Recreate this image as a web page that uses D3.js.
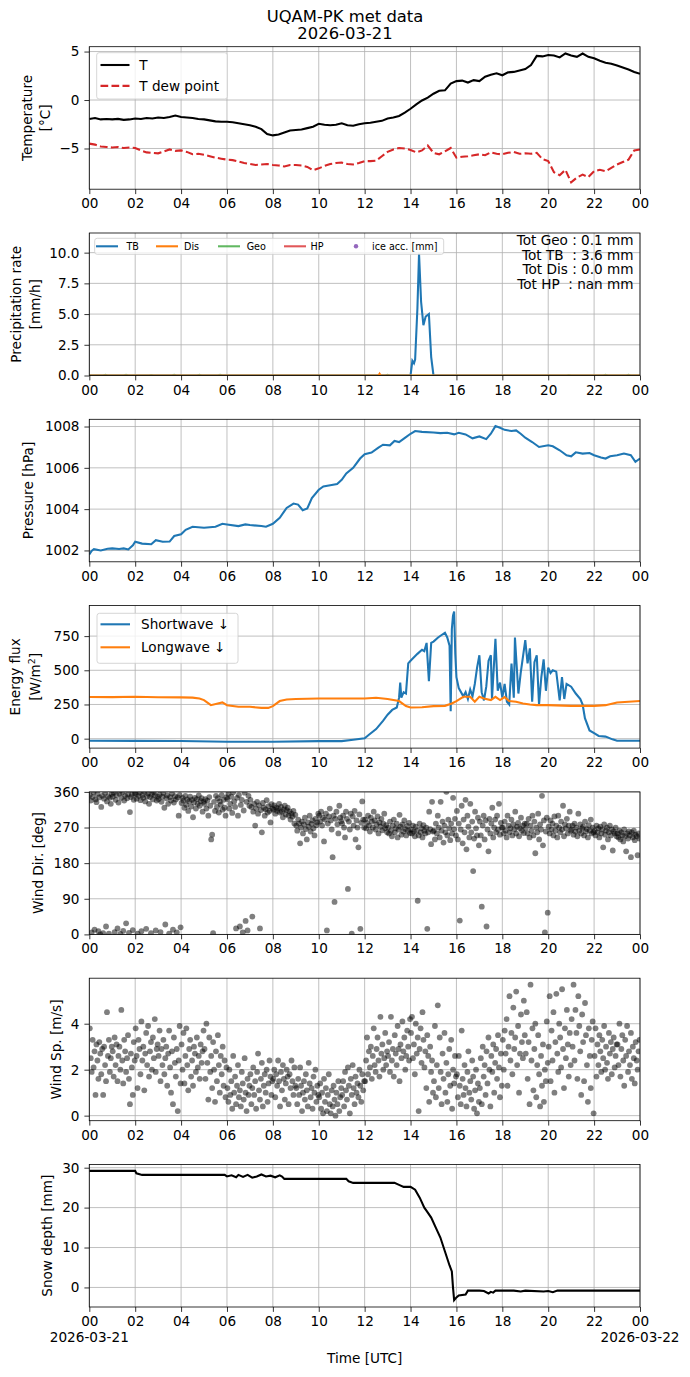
<!doctype html>
<html>
<head>
<meta charset="utf-8">
<style>
    body { margin: 0; background: #fff; }
    svg { display: block; }
    text { font-family: "DejaVu Sans", sans-serif; fill: #000; }
    .grid line { stroke: #b0b0b0; stroke-width: 0.8; }
    .frame { fill: none; stroke: #000; stroke-width: 0.8; }
    .tot { font-size: 13.6px; text-anchor: end; white-space: pre; }
</style>
<script src="https://d3js.org/d3.v7.min.js"></script>
</head>
<body>
<script>
    // ---- data (hours UTC from 2026-03-21 00:00) ----
    // temperature, sampled every 15 min
    const tempT = [
        -1.95, -1.85, -2.0, -1.95, -2.0, -1.95, -2.05, -2.0, -1.9, -1.95, -1.85, -1.9, -1.8, -1.85, -1.75, -1.6,
        -1.75, -1.8, -1.85, -1.95, -2.0, -2.1, -2.2, -2.25, -2.25, -2.3, -2.4, -2.5, -2.6, -2.75, -3.0, -3.5,
        -3.65, -3.55, -3.35, -3.15, -3.1, -3.05, -2.9, -2.75, -2.45, -2.55, -2.6, -2.55, -2.4, -2.6, -2.65, -2.5,
        -2.4, -2.35, -2.25, -2.15, -1.9, -1.8, -1.65, -1.3, -0.9, -0.45, -0.05, 0.25, 0.65, 0.95, 1.0, 1.7,
        1.95, 2.0, 1.8, 2.05, 1.95, 2.4, 2.6, 2.75, 2.55, 2.85, 2.9, 3.05, 3.2, 3.6, 4.55, 4.5,
        4.65, 4.6, 4.4, 4.8, 4.6, 4.45, 4.8, 4.45, 4.3, 4.05, 3.85, 3.75, 3.55, 3.35, 3.15, 2.9, 2.7
    ];
    const tempTd = [
        -4.5, -4.6, -4.8, -4.85, -4.9, -4.85, -4.95, -4.9, -4.95, -5.2, -5.4, -5.45, -5.5, -5.3, -5.1, -5.25,
        -5.2, -5.35, -5.6, -5.55, -5.65, -5.8, -5.95, -6.05, -6.15, -6.2, -6.35, -6.5, -6.6, -6.7, -6.65, -6.6,
        -6.7, -6.75, -6.85, -6.7, -6.7, -6.75, -6.9, -7.25, -7.05, -6.8, -6.6, -6.5, -6.45, -6.6, -6.65, -6.5,
        -6.3, -6.3, -6.25, -5.8, -5.35, -5.1, -4.95, -5.0, -5.15, -5.4, -5.2, -4.7, -5.45, -5.6, -5.3, -4.95,
        -5.95, -5.85, -5.8, -5.7, -5.6, -5.7, -5.4, -5.55, -5.6, -5.45, -5.35, -5.55, -5.5, -5.55, -5.45, -6.1,
        -6.3, -7.45, -7.75, -7.2, -8.5, -8.0, -7.7, -7.95, -7.35, -7.2, -7.35, -7.0, -6.65, -6.4, -6.15, -5.2, -5.1
    ];

    // precipitation rate [mm/h] as [hour, value]
    const precipTB = [[0, 0], [14.0, 0], [14.08, 1.2], [14.15, 1.0], [14.2, 1.3], [14.3, 5.5], [14.37, 9.9],
        [14.46, 6.0], [14.56, 4.1], [14.66, 4.8], [14.8, 5.0], [14.9, 1.5], [15.0, 0], [24, 0]];
    const precipDis = [[0, 0], [12.6, 0], [12.65, 0.15], [12.7, 0], [24, 0]];
    const precipGeo = [[0, 0], [0.6, 0], [0.7, 0.05], [0.8, 0], [1.5, 0], [1.6, 0.05], [1.7, 0], [2.6, 0], [2.7, 0.04],
        [2.8, 0], [3.6, 0], [3.7, 0.06], [3.8, 0], [4.7, 0], [4.8, 0.05], [4.9, 0], [5.6, 0], [5.7, 0.06], [5.8, 0],
        [12.9, 0], [13.0, 0.05], [13.1, 0], [20.8, 0], [20.9, 0.04], [21.0, 0], [22.4, 0], [22.5, 0.05], [22.6, 0],
        [23.4, 0], [23.5, 0.05], [23.6, 0], [24, 0]];
    const precipTotals = ["Tot Geo : 0.1 mm", "Tot TB  : 3.6 mm", "Tot Dis : 0.0 mm", "Tot HP  : nan mm"];
    const precipLegend = ["TB", "Dis", "Geo", "HP", "ice acc. [mm]"];

    // pressure [hPa]
    const pressure = [[0, 1001.8], [0.1, 1001.98], [0.2, 1002.06], [0.5, 1002.0], [0.8, 1002.08], [1.0, 1002.1],
        [1.3, 1002.07], [1.5, 1002.1], [1.7, 1002.05], [1.9, 1002.25], [2.0, 1002.42], [2.3, 1002.33], [2.7, 1002.3],
        [2.9, 1002.5], [3.2, 1002.42], [3.5, 1002.43], [3.7, 1002.7], [4.0, 1002.78], [4.2, 1003.0], [4.5, 1003.15],
        [5.0, 1003.1], [5.5, 1003.15], [5.8, 1003.29], [6.0, 1003.26], [6.5, 1003.18], [6.8, 1003.26], [7.0, 1003.23],
        [7.5, 1003.18], [7.7, 1003.15], [8.0, 1003.29], [8.3, 1003.58], [8.6, 1004.06], [8.9, 1004.27], [9.1, 1004.22],
        [9.3, 1003.95], [9.5, 1004.03], [9.7, 1004.54], [10.0, 1004.94], [10.2, 1005.1], [10.5, 1005.16], [10.8, 1005.22],
        [11.0, 1005.42], [11.2, 1005.73], [11.5, 1006.0], [11.8, 1006.45], [12.0, 1006.66], [12.3, 1006.74],
        [12.6, 1006.98], [12.8, 1007.12], [13.1, 1007.09], [13.3, 1007.3], [13.5, 1007.25], [13.8, 1007.49],
        [14.0, 1007.65], [14.2, 1007.78], [14.5, 1007.74], [15.0, 1007.71], [15.3, 1007.68], [15.6, 1007.7],
        [15.9, 1007.62], [16.1, 1007.7], [16.4, 1007.62], [16.7, 1007.43], [17.0, 1007.52], [17.3, 1007.39],
        [17.5, 1007.65], [17.7, 1008.02], [17.9, 1007.94], [18.1, 1007.84], [18.4, 1007.78], [18.6, 1007.81],
        [18.8, 1007.65], [19.0, 1007.46], [19.3, 1007.25], [19.6, 1007.01], [20.0, 1007.09], [20.2, 1007.04],
        [20.5, 1006.85], [20.8, 1006.61], [21.0, 1006.56], [21.2, 1006.75], [21.5, 1006.69], [21.8, 1006.72],
        [22.0, 1006.61], [22.3, 1006.5], [22.5, 1006.45], [22.7, 1006.56], [23.0, 1006.61], [23.3, 1006.69],
        [23.6, 1006.61], [23.8, 1006.29], [24.0, 1006.45]];

    // radiation [W/m2]
    const shortwave = [[0, -15], [2, -16], [4, -17], [6, -22], [7, -23], [8, -22], [10, -18], [11, -18], [11.5, -8],
        [12.0, 3], [12.2, 30], [12.5, 70], [12.8, 130], [13.0, 175], [13.2, 210], [13.4, 228], [13.5, 300], [13.55, 410],
        [13.6, 300], [13.7, 340], [13.8, 330], [13.9, 550], [14.0, 570], [14.3, 620], [14.5, 650], [14.6, 640],
        [14.7, 700], [14.75, 560], [14.8, 420], [14.9, 700], [15.0, 710], [15.2, 740], [15.5, 775], [15.6, 740],
        [15.7, 680], [15.75, 200], [15.8, 800], [15.85, 900], [15.9, 930], [15.95, 620], [16.0, 450], [16.1, 370],
        [16.3, 310], [16.4, 340], [16.5, 290], [16.6, 360], [16.7, 310], [16.8, 400], [16.9, 520], [17.0, 610],
        [17.1, 340], [17.2, 280], [17.3, 380], [17.4, 570], [17.5, 610], [17.55, 290], [17.7, 730], [17.8, 350],
        [17.9, 410], [18.0, 300], [18.1, 400], [18.2, 270], [18.3, 250], [18.4, 550], [18.5, 300], [18.55, 740],
        [18.7, 330], [18.8, 480], [19.0, 720], [19.1, 550], [19.2, 660], [19.3, 270], [19.4, 560], [19.5, 610],
        [19.6, 250], [19.7, 450], [19.8, 580], [19.9, 350], [20.0, 520], [20.1, 480], [20.2, 500], [20.35, 490],
        [20.5, 280], [20.6, 450], [20.7, 290], [20.8, 400], [21.0, 380], [21.2, 330], [21.4, 290], [21.5, 250],
        [21.6, 150], [21.8, 60], [22.0, 40], [22.2, 20], [22.5, 15], [22.8, -5], [23.0, -15], [24, -15]];
    const longwave = [[0, 305], [1, 304], [2, 306], [3, 303], [4, 302], [4.5, 300], [4.8, 293], [5.0, 282], [5.3, 245],
        [5.6, 257], [5.8, 265], [6.0, 245], [6.5, 233], [7.0, 233], [7.5, 225], [7.8, 225], [8.0, 238], [8.3, 275],
        [8.6, 287], [9.0, 290], [10, 294], [11, 294], [12, 294], [12.5, 299], [13, 290], [13.5, 275], [13.8, 238],
        [14.0, 228], [14.5, 230], [15, 238], [15.5, 240], [15.8, 257], [16.0, 275], [16.3, 306], [16.6, 306],
        [16.8, 270], [17.0, 306], [17.2, 294], [17.5, 282], [17.7, 306], [17.9, 282], [18.1, 304], [18.3, 275],
        [18.6, 270], [18.9, 257], [19.2, 250], [19.5, 245], [20, 245], [21, 240], [22, 240], [22.5, 245],
        [23.0, 265], [23.5, 270], [24, 275]];

    // wind direction [deg], 24 samples per hour
    const windDir = [
        [352, 338, 5, 347, 359, 12, 341, 334, 355, 8, 346, 0, 322, 350, 3, 343, 357, 20, 336, 349, 2, 345, 330, 355],
        [348, 358, 6, 340, 352, 15, 333, 356, 1, 345, 359, 9, 338, 350, 28, 344, 355, 4, 309, 347, 353, 11, 340, 357],
        [355, 343, 2, 350, 358, 339, 8, 352, 345, 360, 336, 14, 349, 356, 330, 347, 3, 354, 341, 359, 351, 10, 338, 348],
        [342, 353, 6, 335, 348, 357, 320, 25, 344, 351, 330, 2, 347, 338, 356, 12, 333, 349, 341, 5, 346, 300, 352, 18],
        [332, 345, 338, 320, 350, 327, 341, 312, 336, 348, 323, 340, 296, 333, 345, 318, 342, 330, 351, 325, 337, 344, 310, 335],
        [330, 342, 318, 338, 300, 347, 325, 240, 252, 3, 335, 312, 350, 322, 344, 308, 336, 328, 352, 315, 340, 320, 300, 346],
        [342, 355, 318, 330, 348, 307, 359, 336, 322, 15, 345, 300, 352, 20, 327, 340, 5, 313, 358, 34, 335, 10, 350, 325],
        [340, 322, 45, 310, 330, 275, 318, 335, 305, 326, 15, 314, 258, 332, 320, 300, 316, 339, 308, 324, 312, 283, 329, 318],
        [315, 326, 305, 320, 312, 318, 330, 308, 322, 310, 296, 316, 325, 303, 314, 320, 300, 311, 290, 305, 298, 312, 280, 302],
        [275, 262, 290, 280, 230, 270, 285, 255, 278, 295, 266, 240, 283, 272, 300, 260, 279, 288, 268, 250, 292, 276, 283, 305],
        [300, 285, 310, 275, 295, 235, 290, 305, 10, 280, 298, 318, 288, 265, 195, 300, 82, 292, 310, 278, 255, 325, 295, 286],
        [280, 300, 270, 245, 310, 292, 115, 285, 265, 305, 2, 298, 275, 312, 240, 288, 270, 220, 303, 14, 282, 336, 290, 270],
        [290, 268, 282, 300, 275, 260, 295, 285, 270, 310, 288, 265, 278, 298, 255, 283, 272, 292, 263, 280, 305, 268, 276, 258],
        [270, 255, 285, 262, 248, 275, 290, 258, 268, 280, 245, 265, 302, 272, 252, 278, 260, 288, 266, 250, 274, 262, 282, 256],
        [265, 255, 275, 260, 248, 272, 262, 85, 250, 280, 258, 268, 245, 276, 262, 255, 270, 14, 258, 310, 266, 228, 335, 260],
        [262, 240, 280, 255, 300, 270, 245, 335, 262, 285, 232, 275, 258, 360, 250, 290, 268, 238, 280, 255, 345, 266, 292, 250],
        [312, 240, 280, 35, 265, 325, 230, 290, 258, 340, 215, 300, 272, 245, 330, 258, 285, 160, 242, 310, 268, 250, 295, 225],
        [285, 250, 70, 275, 300, 240, 288, 20, 265, 210, 292, 255, 280, 320, 245, 270, 290, 258, 300, 265, 330, 252, 282, 270],
        [270, 255, 285, 262, 245, 300, 275, 258, 268, 290, 250, 278, 265, 310, 255, 272, 282, 248, 268, 295, 262, 275, 256, 280],
        [268, 280, 255, 292, 245, 275, 262, 300, 250, 285, 205, 270, 258, 305, 240, 278, 265, 350, 225, 288, 5, 260, 295, 55],
        [272, 255, 288, 265, 280, 250, 298, 262, 275, 245, 300, 270, 258, 285, 265, 325, 248, 278, 268, 292, 255, 275, 310, 262],
        [265, 275, 252, 280, 260, 270, 248, 305, 262, 278, 255, 268, 272, 250, 285, 260, 266, 245, 276, 262, 290, 255, 270, 258],
        [262, 250, 275, 258, 268, 245, 272, 255, 265, 220, 278, 252, 262, 270, 240, 258, 275, 250, 265, 212, 260, 255, 270, 248],
        [255, 245, 262, 240, 258, 250, 235, 265, 248, 210, 255, 242, 260, 250, 195, 258, 245, 262, 238, 252, 248, 200, 255, 242]
    ];

    // wind speed [m/s], 24 samples per hour
    const windSpeed = [
        [3.8, 2.5, 1.9, 3.3, 2.1, 2.8, 0.9, 3.1, 2.4, 1.6, 3.2, 2.7, 1.8, 2.9, 0.9, 3.0, 2.2, 1.5, 4.5, 2.6, 3.3, 1.9, 2.5, 3.0],
        [2.8, 1.7, 3.4, 2.2, 3.1, 1.5, 2.6, 3.0, 2.0, 4.6, 2.4, 1.4, 3.3, 2.8, 1.9, 2.5, 3.5, 1.6, 0.5, 2.7, 2.1, 0.9, 3.2, 2.4],
        [3.8, 2.6, 1.2, 3.3, 2.9, 1.8, 4.1, 2.4, 3.0, 1.1, 2.7, 3.6, 2.2, 3.9, 1.7, 2.8, 3.2, 2.0, 3.4, 2.5, 4.2, 1.9, 2.9, 3.1],
        [2.6, 3.7, 1.5, 2.9, 2.2, 3.3, 1.8, 2.5, 3.0, 1.3, 2.7, 3.7, 2.1, 1.0, 2.8, 0.5, 3.4, 2.3, 1.7, 2.9, 0.2, 2.4, 3.9, 1.4],
        [3.1, 2.0, 3.6, 1.4, 2.6, 3.8, 2.2, 1.1, 2.9, 3.3, 1.7, 2.4, 1.3, 3.0, 2.7, 1.9, 3.4, 2.1, 2.6, 1.6, 3.1, 2.3, 2.8, 3.7],
        [2.9, 1.6, 4.0, 2.3, 0.7, 3.4, 1.9, 2.6, 1.2, 3.2, 2.0, 0.6, 2.8, 1.5, 3.5, 2.2, 1.0, 2.6, 1.8, 3.0, 1.3, 2.4, 0.8, 2.1],
        [1.2, 0.6, 2.0, 0.9, 1.5, 0.3, 2.6, 1.0, 1.7, 0.5, 1.3, 2.2, 0.8, 1.1, 0.4, 1.9, 1.4, 0.7, 2.5, 1.0, 0.2, 1.6, 0.9, 1.3],
        [1.8, 0.5, 1.2, 2.1, 0.9, 1.5, 0.3, 1.9, 2.7, 1.1, 0.7, 1.6, 2.3, 0.4, 1.3, 1.8, 1.0, 2.0, 0.6, 1.4, 2.4, 1.7, 0.9, 1.5],
        [1.6, 2.0, 0.8, 1.8, 1.3, 2.4, 1.5, 0.4, 1.9, 1.1, 2.2, 1.6, 0.7, 1.4, 2.0, 1.7, 0.5, 1.8, 1.2, 2.4, 1.5, 0.9, 2.1, 1.3],
        [1.2, 0.5, 1.6, 0.9, 2.1, 1.3, 0.2, 1.0, 1.5, 0.7, 1.8, 1.1, 0.4, 2.3, 1.4, 0.8, 1.2, 0.3, 1.7, 1.0, 2.0, 0.6, 1.3, 0.9],
        [0.8, 1.4, 0.3, 1.0, 0.1, 1.6, 0.6, 1.2, 0.2, 0.9, 1.8, 0.5, 0.1, 1.1, 0.4, 1.3, 0.7, 0.0, 1.0, 0.5, 1.5, 0.2, 0.8, 1.2],
        [0.9, 1.5, 0.4, 1.9, 1.1, 0.7, 2.1, 1.3, 0.1, 1.6, 0.9, 2.2, 1.2, 0.5, 1.7, 1.0, 1.4, 0.8, 2.0, 1.3, 0.6, 1.8, 1.1, 1.5],
        [1.5, 2.4, 3.4, 1.8, 2.8, 2.1, 3.0, 1.6, 2.6, 3.8, 2.2, 1.9, 2.9, 3.4, 2.4, 1.7, 4.3, 2.7, 3.1, 2.0, 2.5, 3.6, 2.2, 2.8],
        [2.6, 3.2, 1.9, 4.3, 2.4, 2.9, 1.7, 3.5, 2.7, 2.2, 3.9, 2.9, 1.5, 3.1, 2.5, 4.1, 2.8, 3.4, 2.0, 2.6, 3.7, 3.0, 2.4, 4.2],
        [3.6, 4.3, 2.5, 3.1, 1.8, 4.0, 2.7, 3.4, 0.2, 2.9, 3.8, 2.3, 4.5, 3.3, 2.1, 2.8, 1.2, 3.5, 2.6, 0.6, 3.0, 1.9, 2.4, 1.0],
        [1.5, 3.9, 0.8, 2.2, 4.8, 1.2, 3.4, 1.9, 0.5, 2.7, 1.6, 3.6, 1.0, 2.3, 0.6, 1.8, 2.9, 1.3, 3.3, 0.3, 2.0, 1.4, 2.6, 1.7],
        [1.8, 0.8, 2.6, 1.3, 0.5, 3.7, 1.6, 0.9, 2.2, 1.2, 0.4, 1.9, 2.8, 1.0, 1.5, 0.7, 2.4, 1.7, 0.3, 1.1, 2.0, 0.1, 1.4, 0.6],
        [1.2, 2.5, 0.5, 3.0, 1.7, 2.2, 0.9, 2.8, 1.4, 3.4, 2.0, 0.4, 2.6, 1.9, 3.1, 1.0, 2.3, 2.9, 1.6, 3.5, 2.1, 0.8, 2.7, 1.3],
        [3.3, 2.0, 3.7, 2.7, 4.2, 1.3, 3.0, 5.2, 2.4, 3.6, 1.8, 4.7, 2.9, 3.4, 5.4, 2.2, 3.9, 1.0, 2.7, 4.4, 3.2, 2.5, 5.0, 3.5],
        [2.7, 4.5, 1.6, 3.2, 0.5, 5.7, 2.4, 3.8, 1.1, 2.9, 4.0, 0.8, 2.2, 3.5, 1.8, 0.4, 2.6, 1.3, 3.1, 0.6, 2.0, 1.5, 4.1, 2.3],
        [3.0, 5.2, 1.5, 3.7, 2.4, 4.5, 1.0, 3.2, 5.3, 2.7, 1.9, 4.0, 3.4, 2.1, 5.5, 2.9, 1.2, 3.8, 2.5, 4.6, 3.1, 1.7, 3.6, 2.2],
        [4.2, 3.0, 5.7, 2.4, 4.6, 3.6, 1.6, 5.2, 3.9, 2.8, 0.9, 4.4, 3.2, 1.5, 4.9, 3.5, 2.2, 0.6, 3.8, 2.6, 1.2, 3.3, 4.1, 0.1],
        [2.6, 3.8, 1.7, 3.1, 2.2, 3.5, 2.8, 1.9, 3.3, 2.5, 3.9, 2.0, 3.0, 2.3, 1.6, 3.6, 2.7, 3.2, 1.8, 2.9, 3.4, 2.1, 2.6, 3.1],
        [3.1, 2.2, 4.0, 1.7, 2.9, 3.5, 2.4, 1.3, 3.3, 2.6, 3.9, 1.9, 2.8, 2.2, 3.6, 1.6, 3.0, 2.5, 1.4, 3.2, 2.4, 2.0, 2.8, 3.3]
    ];

    // snow depth [mm]
    const snowDepth = [[0, 29.2], [2.0, 29.2], [2.05, 28.6], [2.3, 28.2], [5.9, 28.2], [6.0, 27.8], [6.2, 28.1],
        [6.4, 27.6], [6.5, 28.2], [6.7, 27.7], [6.9, 28.2], [7.1, 27.5], [7.3, 27.8], [7.5, 28.3], [7.7, 27.8],
        [7.9, 28.0], [8.1, 27.6], [8.3, 28.1], [8.4, 27.8], [8.5, 27.2], [11.2, 27.2], [11.3, 26.6], [11.5, 26.2],
        [13.3, 26.2], [13.5, 25.7], [13.7, 25.2], [14.0, 25.2], [14.2, 24.5], [14.4, 22.5], [14.6, 20.0], [14.7, 19.2],
        [14.9, 17.5], [15.1, 15.0], [15.3, 12.5], [15.5, 9.0], [15.7, 5.5], [15.8, 4.0], [15.85, 0], [15.9, -3.2],
        [16.0, -2.5], [16.1, -2.0], [16.4, -1.8], [16.5, -0.8], [17.0, -0.8], [17.2, -0.9], [17.4, -1.5], [17.5, -1.1],
        [17.6, -1.3], [17.7, -0.8], [18.5, -0.8], [18.8, -1.0], [19.0, -0.8], [19.8, -1.0], [20.0, -0.9], [20.2, -1.2],
        [20.4, -0.8], [24, -0.8]];

    const hourTicks = d3.range(0, 25, 2);

    // ---- layout ----
    const W = 690, H = 1377;
    const left = 89.3, right = 640;
    const panelH = 142.5;
    const panelTop = i => 46.7 + 186.3 * i;
    const fs = 13.6;
    const BLUE = "#1f77b4", ORANGE = "#ff7f0e", GREEN = "#2ca02c", RED = "#d62728", PURPLE = "#9467bd";

    const svg = d3.select("body").append("svg")
        .attr("width", W).attr("height", H)
        .attr("viewBox", `0 0 ${W} ${H}`);

    const x = d3.scaleLinear().domain([0, 24]).range([left, right]);

    const minus = d => (d < 0 ? "\u2212" + Math.abs(d) : String(d));

    function makePanel(i, domain, ticks, fmt, ylabel) {
        const top = panelTop(i), bottom = top + panelH;
        const y = d3.scaleLinear().domain(domain).range([bottom, top]);
        const g = svg.append("g");

        // grid
        const grid = g.append("g").attr("class", "grid");
        grid.selectAll(".gx").data(hourTicks).join("line")
            .attr("x1", d => x(d)).attr("x2", d => x(d)).attr("y1", top).attr("y2", bottom);
        grid.selectAll(".gy").data(ticks).join("line")
            .attr("x1", left).attr("x2", right).attr("y1", d => y(d)).attr("y2", d => y(d));

        svg.append("clipPath").attr("id", "clip" + i)
            .append("rect").attr("x", left).attr("y", top).attr("width", right - left).attr("height", panelH);
        const plot = g.append("g").attr("clip-path", `url(#clip${i})`);

        // axes
        const xa = g.append("g").attr("transform", `translate(0,${bottom})`)
            .call(d3.axisBottom(x).tickValues(hourTicks).tickSize(4.9).tickPadding(4.5)
                .tickFormat(d => String(d % 24).padStart(2, "0")));
        const ya = g.append("g").attr("transform", `translate(${left},0)`)
            .call(d3.axisLeft(y).tickValues(ticks).tickSize(4.9).tickPadding(4.9).tickFormat(fmt));
        [xa, ya].forEach(a => {
            a.attr("font-size", fs).attr("font-family", "DejaVu Sans");
            a.select(".domain").remove();
            a.selectAll("line").attr("stroke-width", 0.8);
        });

        // y label
        const cy = top + panelH / 2;
        ylabel.forEach(([txt, cx]) => {
            const t = g.append("text")
                .attr("transform", `translate(${cx + 4},${cy}) rotate(-90)`)
                .attr("text-anchor", "middle").attr("font-size", fs);
            if (txt === "W/m2") {
                t.append("tspan").text("[W/m");
                t.append("tspan").attr("font-size", fs * 0.7).attr("dy", -5).text("2");
                t.append("tspan").attr("dy", 5).text("]");
            } else {
                t.text(txt);
            }
        });

        return {g, plot, y, top, bottom, frame: () => g.append("rect").attr("class", "frame")
                .attr("x", left).attr("y", top).attr("width", right - left).attr("height", panelH)};
    }

    const lineOf = y => d3.line().x(d => x(d[0])).y(d => y(d[1]));

    function legendBox(g, bx, by, bw, bh) {
        g.append("rect").attr("x", bx).attr("y", by).attr("width", bw).attr("height", bh).attr("rx", 2.5)
            .attr("fill", "#fff").attr("fill-opacity", 0.8).attr("stroke", "#cccccc").attr("stroke-width", 0.8);
    }

    // ---- title ----
    svg.append("text").attr("x", 345).attr("y", 22.3).attr("text-anchor", "middle")
        .attr("font-size", 16.4).text("UQAM-PK met data");
    svg.append("text").attr("x", 345).attr("y", 39.3).attr("text-anchor", "middle")
        .attr("font-size", 16.4).text("2026-03-21");

    // ---- panel 1: temperature ----
    {
        const p = makePanel(0, [-9.2, 5.5], [-5, 0, 5], minus, [["Temperature", 28.3], ["[°C]", 46]]);
        const tData = tempT.map((v, k) => [k * 0.25, v]);
        const tdData = tempTd.map((v, k) => [k * 0.25, v]);
        p.plot.append("path").attr("d", lineOf(p.y)(tData)).attr("fill", "none")
            .attr("stroke", "#000").attr("stroke-width", 2.08);
        p.plot.append("path").attr("d", lineOf(p.y)(tdData)).attr("fill", "none")
            .attr("stroke", RED).attr("stroke-width", 2.08).attr("stroke-dasharray", "7.7,3.3");
        p.frame();
        legendBox(p.g, 96.7, 52.7, 130.6, 46.3);
        [["T", "#000", null, 65], ["T dew point", RED, "7.7,3.3", 85.9]].forEach(([lab, col, dash, cy]) => {
            p.g.append("line").attr("x1", 100.5).attr("x2", 129.5).attr("y1", cy).attr("y2", cy)
                .attr("stroke", col).attr("stroke-width", 2.08).attr("stroke-dasharray", dash);
            p.g.append("text").attr("x", 139.3).attr("y", cy + 5.4).attr("font-size", fs).text(lab);
        });
    }

    // ---- panel 2: precipitation ----
    {
        const p = makePanel(1, [0, 11.6], [0, 2.5, 5, 7.5, 10], d3.format(".1f"),
            [["Precipitation rate", 17], ["[mm/h]", 36]]);
        p.plot.append("path").attr("d", lineOf(p.y)(precipGeo)).attr("fill", "none")
            .attr("stroke", GREEN).attr("stroke-opacity", 0.7).attr("stroke-width", 2.08);
        p.plot.append("path").attr("d", lineOf(p.y)(precipTB)).attr("fill", "none")
            .attr("stroke", BLUE).attr("stroke-width", 2.08);
        p.plot.append("path").attr("d", lineOf(p.y)(precipDis)).attr("fill", "none")
            .attr("stroke", ORANGE).attr("stroke-width", 2.08);
        p.frame();

        legendBox(p.g, 94.7, 238.3, 349, 16);
        const cols = [BLUE, ORANGE, GREEN, "#e15759", PURPLE];
        const hx = [96, 156, 218, 284, 356];
        const tx = [126.4, 184, 246.7, 310.6, 372];
        precipLegend.forEach((lab, k) => {
            if (k < 4) {
                p.g.append("line").attr("x1", hx[k]).attr("x2", hx[k] + 22).attr("y1", 246.3).attr("y2", 246.3)
                    .attr("stroke", cols[k]).attr("stroke-width", 2.08)
                    .attr("stroke-opacity", k === 2 ? 0.75 : 1);
            } else {
                p.g.append("circle").attr("cx", hx[k]).attr("cy", 246.3).attr("r", 2.2).attr("fill", cols[k]);
            }
            p.g.append("text").attr("x", tx[k]).attr("y", 249.7).attr("font-size", 9.6).text(lab);
        });

        p.g.selectAll(".tot").data(precipTotals).join("text").attr("class", "tot")
            .attr("x", 633.5).attr("y", (d, k) => 245 + k * 14.5).text(d => d);
    }

    // ---- panel 3: pressure ----
    {
        const p = makePanel(2, [1001.45, 1008.35], [1002, 1004, 1006, 1008], d => d, [["Pressure [hPa]", 29]]);
        p.plot.append("path").attr("d", lineOf(p.y)(pressure)).attr("fill", "none")
            .attr("stroke", BLUE).attr("stroke-width", 2.08);
        p.frame();
    }

    // ---- panel 4: energy flux ----
    {
        const p = makePanel(3, [-69, 973], [0, 250, 500, 750], d => d, [["Energy flux", 16], ["W/m2", 36]]);
        p.plot.append("path").attr("d", lineOf(p.y)(shortwave)).attr("fill", "none")
            .attr("stroke", BLUE).attr("stroke-width", 2.08);
        p.plot.append("path").attr("d", lineOf(p.y)(longwave)).attr("fill", "none")
            .attr("stroke", ORANGE).attr("stroke-width", 2.08);
        p.frame();
        legendBox(p.g, 97, 613.3, 141, 50);
        [["Shortwave \u2193", BLUE, 624.3], ["Longwave \u2193", ORANGE, 647.3]].forEach(([lab, col, cy]) => {
            p.g.append("line").attr("x1", 100.5).attr("x2", 130).attr("y1", cy).attr("y2", cy)
                .attr("stroke", col).attr("stroke-width", 2.08);
            p.g.append("text").attr("x", 141).attr("y", cy + 5).attr("font-size", fs).text(lab);
        });
    }

    // scatter helper: hourly arrays spread evenly through each hour
    const spread = arr => arr.flatMap((vals, h) => vals.map((v, k) => [h + (k + 0.5) / vals.length, v]));

    // ---- panel 5: wind direction ----
    {
        const p = makePanel(4, [0, 360], [0, 90, 180, 270, 360], d => d, [["Wind Dir. [deg]", 39]]);
        p.plot.selectAll("circle").data(spread(windDir)).join("circle")
            .attr("cx", d => x(d[0])).attr("cy", d => p.y(d[1])).attr("r", 2.9)
            .attr("fill", "#000").attr("fill-opacity", 0.5);
        p.frame();
    }

    // ---- panel 6: wind speed ----
    {
        const p = makePanel(5, [-0.22, 5.98], [0, 2, 4], d => d, [["Wind Sp. [m/s]", 57]]);
        p.plot.selectAll("circle").data(spread(windSpeed)).join("circle")
            .attr("cx", d => x(d[0])).attr("cy", d => p.y(d[1])).attr("r", 2.9)
            .attr("fill", "#000").attr("fill-opacity", 0.5);
        p.frame();
    }

    // ---- panel 7: snow depth ----
    {
        const p = makePanel(6, [-4.9, 30.8], [0, 10, 20, 30], d => d, [["Snow depth [mm]", 48]]);
        p.plot.append("path").attr("d", lineOf(p.y)(snowDepth)).attr("fill", "none")
            .attr("stroke", "#000").attr("stroke-width", 2.08);
        p.frame();
        const dateY = p.bottom + 35;
        p.g.append("text").attr("x", x(0)).attr("y", dateY).attr("text-anchor", "middle")
            .attr("font-size", fs).text("2026-03-21");
        p.g.append("text").attr("x", x(24)).attr("y", dateY).attr("text-anchor", "middle")
            .attr("font-size", fs).text("2026-03-22");
        p.g.append("text").attr("x", x(12)).attr("y", p.bottom + 56).attr("text-anchor", "middle")
            .attr("font-size", fs).text("Time [UTC]");
    }
</script>
</body>
</html>
